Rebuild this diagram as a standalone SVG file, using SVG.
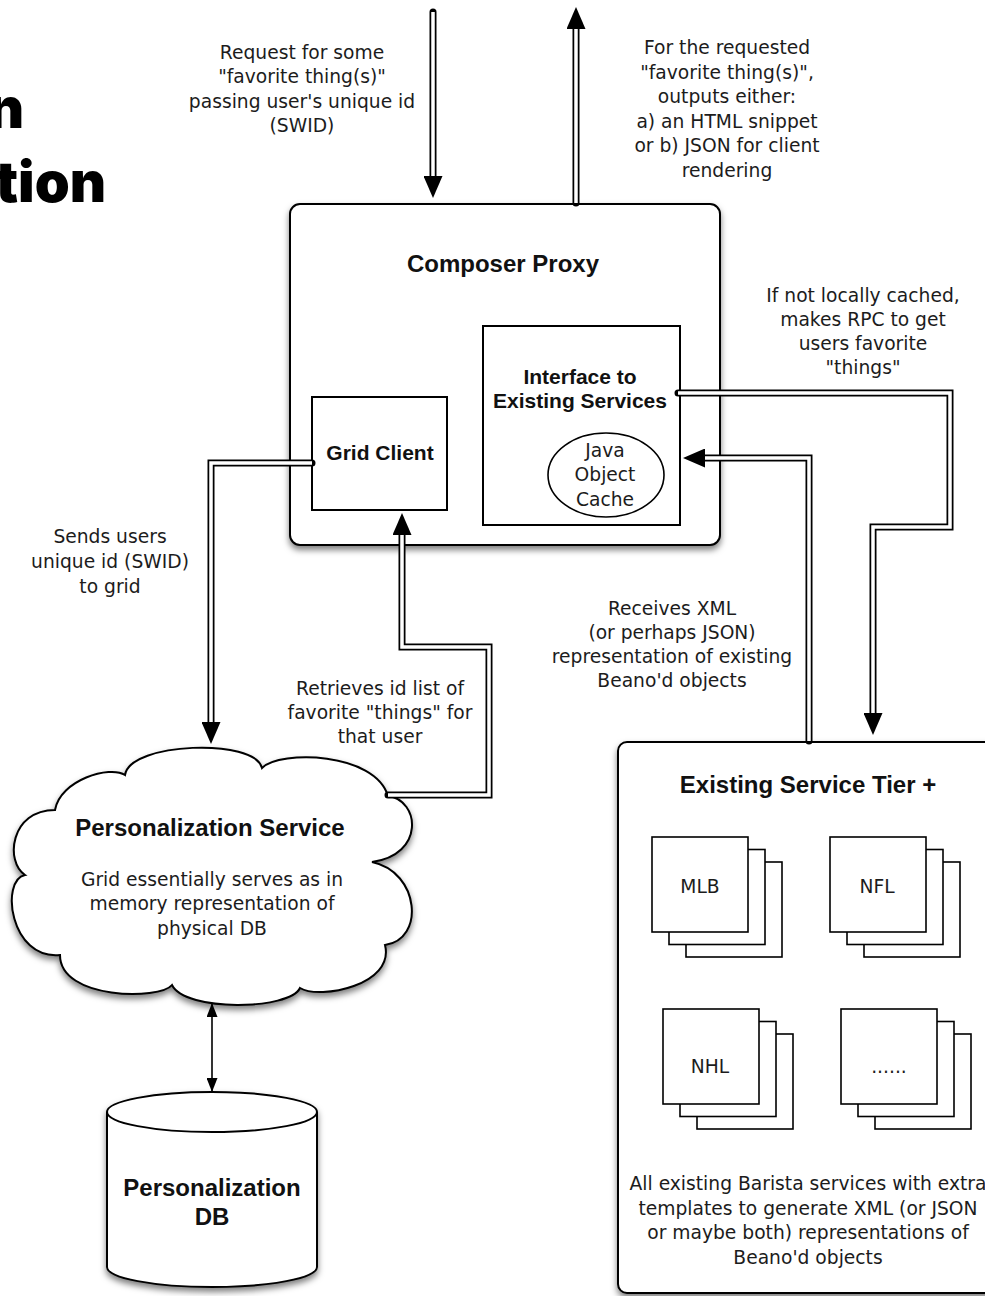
<svg xmlns="http://www.w3.org/2000/svg" xmlns:xlink="http://www.w3.org/1999/xlink" width="985" height="1296" viewBox="0 0 985 1296">
  <style>
    .body { font-family: "DejaVu Sans", "Liberation Sans", sans-serif; font-size: 18.7px; fill: #1c1c1c; text-anchor: middle; }
    .bold { font-family: "Liberation Sans", Arial, sans-serif; font-weight: bold; fill: #111; text-anchor: middle; }
    .heading { font-family: Inter, "Open Sans", sans-serif; font-weight: 900; font-size: 56px; fill: #000; text-anchor: end; }
    .box { fill: #fff; stroke: #000; stroke-width: 2; }
    .thin { fill: #fff; stroke: #000; stroke-width: 1.6; }
    .pipe-o { fill: none; stroke: #000; stroke-width: 7; stroke-linecap: round; stroke-linejoin: miter; marker-end: url(#head); }
    .pipe-i { fill: none; stroke: #fff; stroke-width: 3.5; stroke-linejoin: miter; }
    .link { fill: none; stroke: #000; stroke-width: 1.6; marker-start: url(#tip); marker-end: url(#tip); }
  </style>
  <defs>
    <marker id="head" markerUnits="userSpaceOnUse" markerWidth="22" markerHeight="19" refX="0" refY="9.5" orient="auto">
      <path d="M0,0 L22,9.5 L0,19 Z" fill="#000"/>
    </marker>
    <marker id="tip" markerUnits="userSpaceOnUse" markerWidth="14" markerHeight="11" refX="14" refY="5.5" orient="auto-start-reverse">
      <path d="M0,0 L14,5.5 L0,11 Z" fill="#000"/>
    </marker>
    <filter id="shadow" x="-10%" y="-10%" width="125%" height="130%">
      <feDropShadow dx="0" dy="4" stdDeviation="3" flood-color="#000" flood-opacity="0.5"/>
    </filter>
    <!-- three stacked service sheets, front sheet at origin -->
    <g id="stack">
      <rect class="thin" x="34" y="25" width="96" height="95"/>
      <rect class="thin" x="17" y="12.5" width="96" height="95"/>
      <rect class="thin" x="0" y="0" width="96" height="95"/>
    </g>
  </defs>

  <rect width="985" height="1296" fill="#fff"/>

  <!-- partial heading at the left edge -->
  <text class="heading" x="24" y="128">n</text>
  <text class="heading" x="106" y="202">tion</text>

  <!-- request / response labels -->
  <g id="label-request">
    <text class="body" x="302" y="59">Request for some</text>
    <text class="body" x="302" y="83">"favorite thing(s)"</text>
    <text class="body" x="302" y="108">passing user's unique id</text>
    <text class="body" x="302" y="132">(SWID)</text>
  </g>
  <g id="label-response">
    <text class="body" x="727" y="54">For the requested</text>
    <text class="body" x="727" y="78.6">"favorite thing(s)",</text>
    <text class="body" x="727" y="103.2">outputs either:</text>
    <text class="body" x="727" y="127.8">a) an HTML snippet</text>
    <text class="body" x="727" y="152.4">or b) JSON for client</text>
    <text class="body" x="727" y="177">rendering</text>
  </g>

  <!-- Composer Proxy -->
  <g id="composer-proxy">
    <rect class="box" x="290" y="204" width="430" height="341" rx="10" filter="url(#shadow)"/>
    <text class="bold" x="503" y="272" font-size="24">Composer Proxy</text>
  </g>
  <g id="interface">
    <rect class="box" x="483" y="326" width="197" height="199"/>
    <text class="bold" x="580" y="384" font-size="21">Interface to</text>
    <text class="bold" x="580" y="408" font-size="21">Existing Services</text>
  </g>
  <g id="java-cache">
    <ellipse cx="606" cy="475" rx="58" ry="42" fill="#fff" stroke="#000" stroke-width="1.6"/>
    <text class="body" x="605" y="457">Java</text>
    <text class="body" x="605" y="481">Object</text>
    <text class="body" x="605" y="506">Cache</text>
  </g>
  <g id="grid-client">
    <rect class="box" x="312" y="397" width="135" height="113"/>
    <text class="bold" x="380" y="460" font-size="21">Grid Client</text>
  </g>

  <!-- side labels -->
  <g id="label-rpc">
    <text class="body" x="863" y="302">If not locally cached,</text>
    <text class="body" x="863" y="326">makes RPC to get</text>
    <text class="body" x="863" y="350">users favorite</text>
    <text class="body" x="863" y="374">"things"</text>
  </g>
  <g id="label-swid">
    <text class="body" x="110" y="543">Sends users</text>
    <text class="body" x="110" y="568">unique id (SWID)</text>
    <text class="body" x="110" y="593">to grid</text>
  </g>
  <g id="label-retrieve">
    <text class="body" x="380" y="695">Retrieves id list of</text>
    <text class="body" x="380" y="719">favorite "things" for</text>
    <text class="body" x="380" y="743">that user</text>
  </g>
  <g id="label-receive">
    <text class="body" x="672" y="615">Receives XML</text>
    <text class="body" x="672" y="639">(or perhaps JSON)</text>
    <text class="body" x="672" y="663">representation of existing</text>
    <text class="body" x="672" y="687">Beano'd objects</text>
  </g>

  <!-- Personalization Service cloud -->
  <g id="personalization-service">
    <path class="box" filter="url(#shadow)" d="M125,775 C130,742 255,738 262,768 C280,750 375,752 388,796 C420,800 425,855 372,862 C420,872 425,940 385,945 C395,985 320,1000 300,988 C290,1010 185,1012 172,985 C160,1000 60,1000 60,955 C10,960 0,880 25,875 C5,862 10,810 55,810 C60,780 110,765 125,775 Z"/>
    <text class="bold" x="210" y="836" font-size="24">Personalization Service</text>
    <text class="body" x="212" y="886">Grid essentially serves as in</text>
    <text class="body" x="212" y="910">memory representation of</text>
    <text class="body" x="212" y="935">physical DB</text>
  </g>

  <!-- Personalization DB cylinder -->
  <g id="personalization-db">
    <path class="box" filter="url(#shadow)" d="M107,1112 A105,20 0 0 1 317,1112 L317,1267 A105,20 0 0 1 107,1267 Z"/>
    <path d="M107,1112 A105,20 0 0 0 317,1112" fill="none" stroke="#000" stroke-width="2"/>
    <text class="bold" x="212" y="1196" font-size="24">Personalization</text>
    <text class="bold" x="212" y="1225" font-size="24">DB</text>
  </g>

  <!-- Existing Service Tier -->
  <g id="service-tier">
    <rect class="box" x="618" y="742" width="400" height="551" rx="9" filter="url(#shadow)"/>
    <text class="bold" x="808" y="793" font-size="24">Existing Service Tier +</text>
    <g id="svc-mlb">
      <use xlink:href="#stack" href="#stack" transform="translate(652,837)"/>
      <text class="body" x="700" y="893">MLB</text>
    </g>
    <g id="svc-nfl">
      <use xlink:href="#stack" href="#stack" transform="translate(830,837)"/>
      <text class="body" x="877" y="893">NFL</text>
    </g>
    <g id="svc-nhl">
      <use xlink:href="#stack" href="#stack" transform="translate(663,1009)"/>
      <text class="body" x="710" y="1073">NHL</text>
    </g>
    <g id="svc-more">
      <use xlink:href="#stack" href="#stack" transform="translate(841,1009)"/>
      <text class="body" x="889" y="1073">......</text>
    </g>
    <text class="body" x="808" y="1190">All existing Barista services with extra</text>
    <text class="body" x="808" y="1215">templates to generate XML (or JSON</text>
    <text class="body" x="808" y="1239">or maybe both) representations of</text>
    <text class="body" x="808" y="1264">Beano'd objects</text>
  </g>

  <!-- connectors: double-line pipes with solid heads -->
  <g id="connectors">
    <path class="pipe-o" d="M433,12 L433,176"/>
    <path class="pipe-i" d="M433,12 L433,176"/>

    <path class="pipe-o" d="M576,203 L576,29"/>
    <path class="pipe-i" d="M576,203 L576,29"/>

    <path class="pipe-o" d="M312,463 L211,463 L211,722"/>
    <path class="pipe-i" d="M312,463 L211,463 L211,722"/>

    <path class="pipe-o" d="M388,795 L489,795 L489,647 L402,647 L402,535"/>
    <path class="pipe-i" d="M388,795 L489,795 L489,647 L402,647 L402,535"/>

    <path class="pipe-o" d="M678,393 L950,393 L950,527 L873,527 L873,713"/>
    <path class="pipe-i" d="M678,393 L950,393 L950,527 L873,527 L873,713"/>

    <path class="pipe-o" d="M809,741 L809,458 L705,458"/>
    <path class="pipe-i" d="M809,741 L809,458 L705,458"/>

    <path class="link" d="M212,1003 L212,1092"/>
  </g>
</svg>
